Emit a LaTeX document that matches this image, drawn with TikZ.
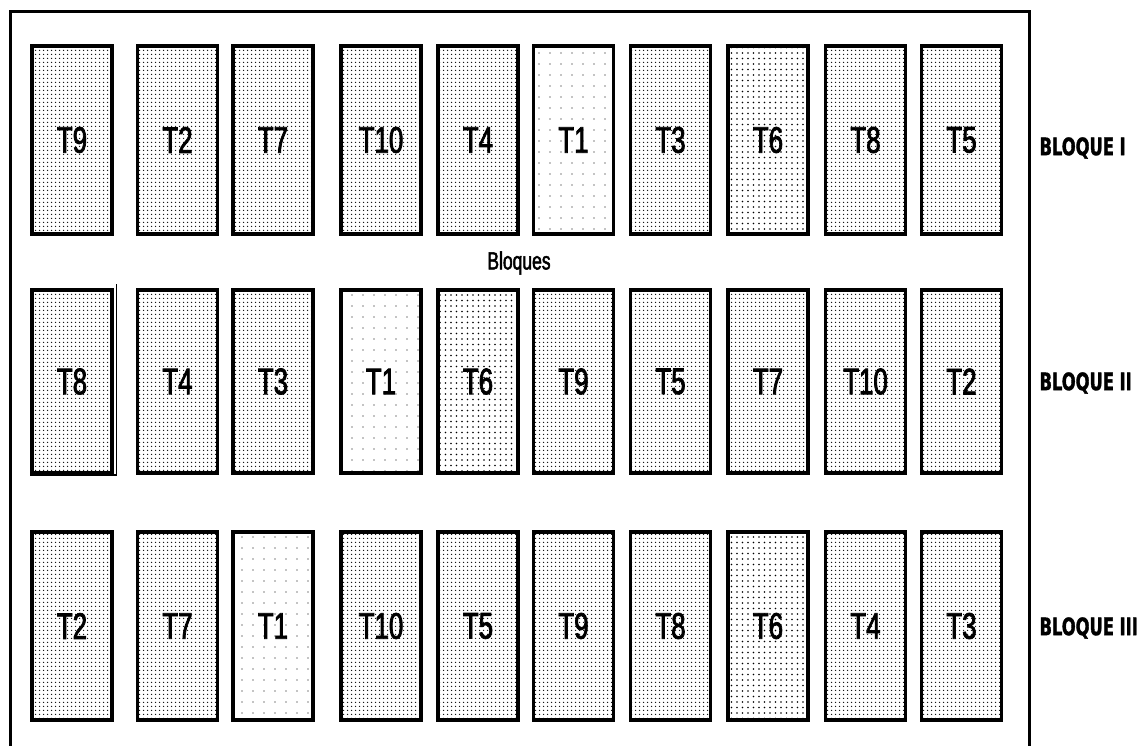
\documentclass[tikz,border=0pt]{standalone}
\usepackage{fontspec}
\setmainfont{Liberation Sans}
\newfontfamily\narrowfont[FakeStretch=0.7,FakeBold=2]{Liberation Sans}
\newfontfamily\blockfont[FakeStretch=0.68,BoldFeatures={FakeBold=1.5}]{DejaVu Sans}
\usetikzlibrary{patterns.meta}
\tikzset{
  plot/.style={draw, line width=3.2pt, minimum width=80pt, inner sep=0pt,
    font=\narrowfont\fontsize{37}{37}\selectfont},
  dense/.style={pattern={Dots[distance=4pt,radius=0.9pt]}},
  light/.style={pattern={Dots[distance=5.5pt,radius=0.8pt]}},
  sparse/.style={pattern={Dots[distance=11pt,radius=0.7pt]}},
  blocklabel/.style={anchor=west, font=\blockfont\bfseries\fontsize{24}{24}\selectfont},
  frame/.style={line width=3pt},
  extra/.style={line width=1.4pt}
}
\begin{document}
\begin{tikzpicture}[x=1pt,y=-1pt]
\useasboundingbox (0,0) rectangle (1146,746);
\def\cx{{72,177.5,273,381,478,573.5,670.5,768,865.5,961.5}}
% frame
\draw[frame] (10,748) -- (10,12) -- (1029,12) -- (1029,748);
% row 1
\foreach \lab/\sty [count=\i from 0] in {T9/dense,T2/dense,T7/dense,T10/dense,T4/dense,T1/sparse,T3/dense,T6/light,T8/dense,T5/dense}{
  \pgfmathsetmacro\x{\cx[\i]}
  \node[plot,\sty,minimum height=188pt] (r1c\i) at (\x,140) {\lab};
}
% row 2
\foreach \lab/\sty [count=\i from 0] in {T8/dense,T4/dense,T3/dense,T1/sparse,T6/light,T9/dense,T5/dense,T7/dense,T10/dense,T2/dense}{
  \pgfmathsetmacro\x{\cx[\i]}
  \node[plot,\sty,minimum height=183pt] (r2c\i) at (\x,381.5) {\lab};
}
% row 3
\foreach \lab/\sty [count=\i from 0] in {T2/dense,T7/dense,T1/sparse,T10/dense,T5/dense,T9/dense,T8/dense,T6/light,T4/dense,T3/dense}{
  \pgfmathsetmacro\x{\cx[\i]}
  \node[plot,\sty,minimum height=188pt] (r3c\i) at (\x,626) {\lab};
}
% extra lines around row 2 first plot
\draw[extra] (r2c0.north east) ++(3,-4) coordinate (e1) -- (e1 |- 0,475) coordinate (e2);
\draw[extra] (e2) -- (30,475) coordinate (e3);
% labels
\node[font=\narrowfont\fontsize{25}{25}\selectfont] (bloques) at (519,263) {Bloques};
\node[blocklabel] (b1) at (1036,148) {BLOQUE I};
\node[blocklabel] (b2) at (1036,383) {BLOQUE II};
\node[blocklabel] (b3) at (1036,628) {BLOQUE III};
\end{tikzpicture}
\end{document}
